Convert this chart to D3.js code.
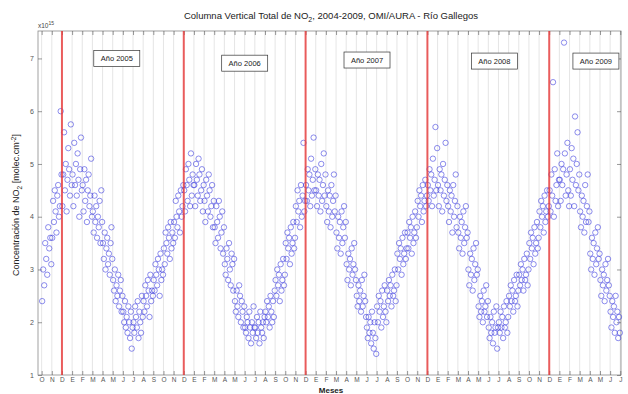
<!DOCTYPE html>
<html><head><meta charset="utf-8">
<script src="https://cdn.jsdelivr.net/npm/d3@7"></script>
<style>body{margin:0;background:#fff}svg text{font-family:"Liberation Sans",Arial,sans-serif}</style></head>
<body><svg id="c" width="628" height="394"></svg>
<script>
// Month letter for each monthly tick (index = month number mod 12; tick 0 = first red line)
const monthLetters = ["D","E","F","M","A","M","J","J","A","S","O","N"];
const firstSlot = -2;
// NO2 total column (x1e15 molec/cm2), values sampled within each monthly slot, starting at slot -2
const monthValues = [
 [2.4,3.0,2.7,3.5,3.2,2.9,3.8,3.4,3.6,3.1],
 [3.6,4.3,3.9,4.5,4.1,3.7,4.4,4.6,4.0,4.2,6.0,4.8],
 [4.2,4.8,5.6,4.5,5.0,4.1,4.7,5.3,4.9,4.4,5.75,4.6],
 [4.8,4.2,5.4,4.6,5.0,4.4,5.2,4.7,4.0,4.9,5.5,4.5],
 [4.6,4.1,4.9,4.3,4.7,3.9,4.5,4.8,4.2,4.4,5.1,4.0],
 [4.1,3.7,4.4,3.9,4.2,3.6,4.0,3.8,4.3,3.5,4.5,3.9],
 [3.5,3.2,3.7,3.0,3.4,3.6,3.1,3.3,2.9,3.5,3.8,3.2],
 [2.8,2.6,3.0,2.4,2.7,2.5,2.9,2.3,2.6,2.8,2.2,2.5],
 [2.2,2.0,2.4,1.9,2.1,1.8,2.3,2.0,1.7,2.2,1.5,1.9],
 [2.0,1.8,2.3,2.1,1.9,2.4,1.7,2.2,2.0,1.8,2.5,2.1],
 [2.4,2.2,2.7,2.5,2.3,2.8,2.6,2.1,2.9,2.4,2.6,2.5],
 [2.8,2.6,3.1,2.9,2.7,3.2,3.0,2.5,3.3,2.8,3.0,2.9],
 [3.4,3.1,3.7,3.5,3.3,3.8,3.6,3.2,3.9,3.4,3.7,3.5],
 [3.9,3.6,4.3,4.0,3.8,4.4,4.1,3.7,4.5,4.0,4.2,4.6],
 [4.5,4.1,4.9,4.6,4.3,5.0,4.7,4.2,5.2,4.4,4.8,4.6],
 [4.6,4.2,5.0,4.7,4.4,5.1,4.8,4.3,4.5,4.9,4.1,4.6],
 [4.3,3.9,4.7,4.4,4.1,4.8,4.5,4.0,4.2,4.6,3.8,4.3],
 [3.8,3.5,4.2,3.9,3.6,4.3,4.0,3.4,3.7,4.1,3.3,3.8],
 [3.1,2.9,3.4,3.2,2.8,3.5,3.0,2.7,3.3,3.1,2.6,3.2],
 [2.4,2.2,2.6,2.3,2.1,2.7,2.5,2.0,2.4,2.2,1.9,2.3],
 [1.9,1.8,2.1,2.0,1.7,2.2,1.9,1.6,2.0,1.8,2.3,1.9],
 [1.9,1.7,2.1,1.8,2.0,1.6,2.2,1.9,1.8,2.0,1.7,2.1],
 [2.2,2.0,2.4,2.1,2.3,1.9,2.5,2.2,2.0,2.4,2.1,2.6],
 [2.8,2.5,3.0,2.7,2.9,2.4,3.1,2.6,2.8,3.2,2.7,2.9],
 [3.5,3.2,3.7,3.4,3.6,3.1,3.8,3.3,3.5,3.9,3.4,3.6],
 [4.2,3.9,4.5,4.1,4.3,3.8,4.6,4.0,4.4,5.4,4.1,4.3],
 [4.6,4.3,4.9,4.5,4.8,4.2,5.1,4.4,4.7,5.5,4.5,4.9],
 [4.5,4.2,4.8,4.4,4.7,4.1,5.0,4.3,4.6,5.2,4.4,4.8],
 [4.2,3.9,4.5,4.1,4.4,3.8,4.6,4.0,4.3,4.8,4.1,4.4],
 [3.7,3.4,4.0,3.6,3.9,3.3,4.1,3.5,3.8,4.2,3.6,3.9],
 [3.1,2.8,3.3,3.0,3.2,2.7,3.4,2.9,3.1,3.5,3.0,2.8],
 [2.5,2.3,2.7,2.4,2.6,2.2,2.8,2.3,2.5,2.9,2.4,2.1],
 [1.9,1.7,2.1,1.8,2.0,1.6,2.2,1.8,1.5,2.0,1.7,1.4],
 [2.3,2.0,2.5,2.2,2.4,1.9,2.6,2.1,2.3,2.7,2.2,2.0],
 [2.6,2.4,2.8,2.5,2.7,2.3,2.9,2.5,2.6,3.0,2.4,2.7],
 [3.3,3.0,3.5,3.2,3.4,2.9,3.6,3.1,3.3,3.7,3.2,3.4],
 [3.7,3.4,3.9,3.6,3.8,3.3,4.0,3.5,3.7,4.1,3.6,3.8],
 [4.3,4.0,4.5,4.2,4.4,3.9,4.6,4.1,4.3,4.7,4.2,4.4],
 [4.6,4.3,4.9,4.5,4.8,4.2,5.1,4.4,4.7,5.7,4.5,5.3],
 [4.6,4.2,4.9,4.5,4.8,4.1,5.0,4.4,4.7,5.4,4.3,4.6],
 [4.2,3.9,4.5,4.1,4.4,3.7,4.6,4.0,4.3,4.8,3.8,4.2],
 [3.7,3.4,4.0,3.6,3.9,3.3,4.1,3.5,3.8,4.2,3.6,3.7],
 [3.0,2.7,3.3,2.9,3.2,2.6,3.4,2.8,3.1,3.5,2.9,3.0],
 [2.3,2.1,2.5,2.2,2.4,2.0,2.6,2.2,2.3,2.7,2.1,2.4],
 [1.9,1.7,2.1,1.8,2.0,1.6,2.2,1.8,1.9,2.3,1.5,1.9],
 [2.0,1.8,2.2,1.9,2.1,1.7,2.3,1.9,2.0,2.4,1.8,2.1],
 [2.5,2.3,2.7,2.4,2.6,2.2,2.8,2.4,2.5,2.9,2.3,2.6],
 [2.9,2.7,3.1,2.8,3.0,2.6,3.2,2.8,2.9,3.3,2.7,3.0],
 [3.5,3.2,3.7,3.4,3.6,3.1,3.8,3.3,3.5,3.9,3.4,3.6],
 [4.1,3.8,4.3,4.0,4.2,3.7,4.4,3.9,4.1,4.5,4.0,4.2],
 [4.5,4.1,4.8,4.4,6.55,4.0,4.9,4.3,4.6,5.2,4.2,4.7],
 [4.7,4.3,5.0,4.6,4.9,7.3,5.2,4.4,4.8,5.4,4.5,4.2],
 [4.9,4.4,5.3,4.7,5.1,4.2,5.9,4.6,5.0,5.6,4.5,4.8],
 [4.1,3.8,4.4,4.0,4.3,3.7,4.6,3.9,4.2,4.8,3.9,4.1],
 [3.3,3.0,3.6,3.2,3.5,2.9,3.7,3.1,3.4,3.8,3.2,3.3],
 [2.8,2.5,3.0,2.7,2.9,2.4,3.1,2.6,2.8,3.2,2.7,2.5],
 [2.2,1.9,2.4,2.1,2.3,1.8,2.5,2.0,2.2,1.7,2.1,1.8]
];
const yearLineMonths = [0,12,24,36,48];
const yearLabels = ["Año 2005","Año 2006","Año 2007","Año 2008","Año 2009"];
const yearLabelMonth = [5.4,18.0,30.05,42.6,52.6];
const yearLabelValue = [7.0,6.91,6.97,6.95,6.95];
const yTicks = [1,2,3,4,5,6,7];
const xDomain = [-2.36, 55.07];
const yDomain = [1, 7.52];

const svg = d3.select("#c");
const L=38,R=621,T=31,B=375;
const x = d3.scaleLinear().domain(xDomain).range([L,R]);
const y = d3.scaleLinear().domain(yDomain).range([B,T]);
const monthTicks = d3.range(-2, 56);

// grid
svg.append("g").selectAll("line").data(monthTicks).join("line")
  .attr("x1",d=>x(d)).attr("x2",d=>x(d)).attr("y1",T).attr("y2",B)
  .attr("stroke","#d4d4d4").attr("stroke-width",0.6);

// box
svg.append("rect").attr("x",L).attr("y",T).attr("width",R-L).attr("height",B-T)
  .attr("fill","none").attr("stroke","#8a8a8a").attr("stroke-width",0.8);

// x axis bottom
const xb = svg.append("g").attr("transform",`translate(0,${B})`)
  .call(d3.axisBottom(x).tickValues(monthTicks).tickSize(-4).tickPadding(2)
    .tickFormat(d=>monthLetters[((d%12)+12)%12]));
xb.select(".domain").remove();
xb.selectAll("line").attr("stroke","#555").attr("stroke-width",0.6);
xb.selectAll("text").attr("font-size",6.5).attr("fill","#555").attr("font-family","Liberation Sans, Arial");
// x axis top ticks
const xt = svg.append("g").attr("transform",`translate(0,${T})`)
  .call(d3.axisTop(x).tickValues(monthTicks).tickSize(-4).tickFormat(""));
xt.select(".domain").remove();
xt.selectAll("line").attr("stroke","#555").attr("stroke-width",0.6);

// y axis
const yl = svg.append("g").attr("transform",`translate(${L},0)`)
  .call(d3.axisLeft(y).tickValues(yTicks).tickSize(-4).tickPadding(4).tickFormat(d3.format("d")));
yl.select(".domain").remove();
yl.selectAll("line").attr("stroke","#555").attr("stroke-width",0.6);
yl.selectAll("text").attr("font-size",7).attr("fill","#555").attr("font-family","Liberation Sans, Arial");
const yr = svg.append("g").attr("transform",`translate(${R},0)`)
  .call(d3.axisRight(y).tickValues(yTicks).tickSize(-4).tickFormat(""));
yr.select(".domain").remove();
yr.selectAll("line").attr("stroke","#555").attr("stroke-width",0.6);

// data points
const pts = [];
monthValues.forEach((vals,i)=>{
  const k = firstSlot + i;
  vals.forEach((v,j)=>pts.push({m:k+(j+0.5)/vals.length, v}));
});
svg.append("g").selectAll("circle").data(pts).join("circle")
  .attr("cx",d=>x(d.m)).attr("cy",d=>y(d.v)).attr("r",2.7)
  .attr("fill","none").attr("stroke","#3434dc").attr("stroke-width",0.7).attr("stroke-opacity",0.8);

// red year lines
svg.append("g").selectAll("line").data(yearLineMonths).join("line")
  .attr("x1",d=>x(d)).attr("x2",d=>x(d)).attr("y1",T).attr("y2",B)
  .attr("stroke","#e83838").attr("stroke-opacity",0.8).attr("stroke-width",2);

// year label boxes
const lg = svg.append("g").selectAll("g").data(yearLabels).join("g")
  .attr("transform",(d,i)=>`translate(${x(yearLabelMonth[i])},${y(yearLabelValue[i])})`);
lg.append("rect").attr("x",-23).attr("y",-8).attr("width",46).attr("height",16)
  .attr("fill","#fff").attr("stroke","#333").attr("stroke-width",0.7);
lg.append("text").text(d=>d).attr("text-anchor","middle").attr("dy","0.35em")
  .attr("font-size",7.5).attr("fill","#222");

// title
const title = svg.append("text").attr("x",331).attr("y",19).attr("text-anchor","middle")
  .attr("font-size",9.5).attr("fill","#222");
title.append("tspan").text("Columna Vertical Total de NO");
title.append("tspan").text("2").attr("font-size",7).attr("dy",3);
title.append("tspan").text(",  2004-2009, OMI/AURA - Río Gallegos").attr("dy",-3);

// exponent
const ex = svg.append("text").attr("x",38).attr("y",28).attr("font-size",6.5).attr("fill","#444");
ex.append("tspan").text("x10");
ex.append("tspan").text("15").attr("font-size",5).attr("dy",-3);

// y label
const ylab = svg.append("text").attr("transform","translate(19,205) rotate(-90)")
  .attr("text-anchor","middle").attr("font-size",9).attr("fill","#222");
ylab.append("tspan").text("Concentración de NO");
ylab.append("tspan").text("2").attr("font-size",6.5).attr("dy",3);
ylab.append("tspan").text(" [molec.cm").attr("dy",-3);
ylab.append("tspan").text("-2").attr("font-size",6.5).attr("dy",-3);
ylab.append("tspan").text("]").attr("dy",3);

// x label
svg.append("text").attr("x",331).attr("y",393).attr("text-anchor","middle")
  .attr("font-size",8).attr("font-weight","bold").attr("fill","#222").text("Meses");
</script></body></html>
